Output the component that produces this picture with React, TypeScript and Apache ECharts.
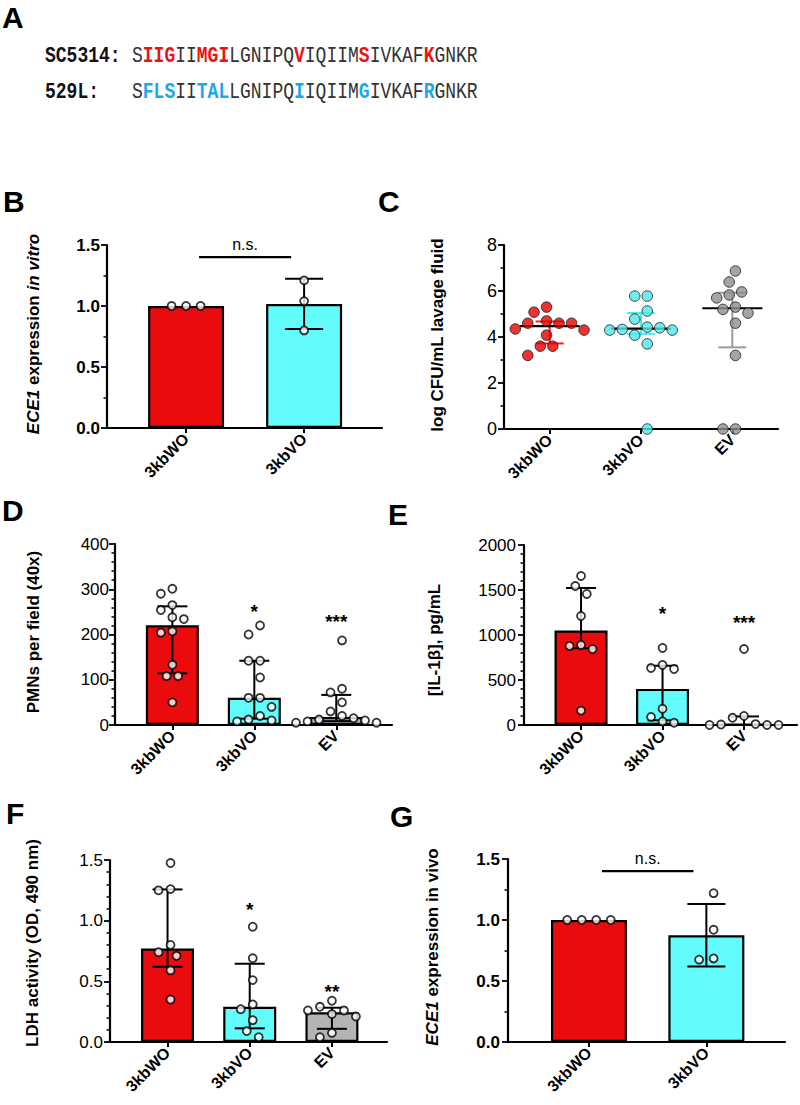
import React, { useEffect, useRef } from 'react';
import * as echarts from 'echarts';

const SANS = '"Liberation Sans", Arial, Helvetica, sans-serif';
const MONO = '"Liberation Mono", "Courier New", monospace';

const RED = '#ea0c0c';
const CYAN = '#62fcfc';
const GRAY = '#b4b4b4';
const DOT_RED = '#e60000';
const DOT_CYAN = '#4ee9ef';
const DOT_GRAY = '#8e8e8e';
const IQR_RED = '#ee2020';
const IQR_CYAN = '#3ef2f2';
const IQR_GRAY = '#9a9a9a';
const SEQ_RED = '#ee1111';
const SEQ_BLUE = '#1aa7ec';

// ---- Panel A: sequences
const strainLabels = ['SC5314:', '529L:'];
const strainSeqs = ['SIIGIIMGILGNIPQVIQIIMSIVKAFKGNKR', 'SFLSIITALLGNIPQIIQIIMGIVKAFRGNKR'];

// ---- categories
const catsTwo = ['3kbWO', '3kbVO'];
const catsThree = ['3kbWO', '3kbVO', 'EV'];

// ---- B: ECE1 expression in vitro
const vitroWO = [1.0, 1.0, 1.0];
const vitroVO = [1.21, 1.04, 0.8];
// ---- C: log CFU/mL lavage fluid
const cfuWO = [5.3, 5.08, 4.7, 4.6, 4.6, 4.6, 4.35, 4.3, 4.08, 3.6, 3.6, 3.2];
const cfuVO = [5.78, 5.78, 5.13, 4.78, 4.43, 4.4, 4.33, 4.3, 4.3, 4.08, 3.7, 0];
const cfuEV = [6.87, 6.39, 5.96, 5.83, 5.7, 5.3, 5.2, 5.04, 4.6, 3.2, 0, 0];
// ---- D: PMNs per field
const pmnWO = [301, 290, 265, 254, 238, 234, 207, 204, 133, 108, 108, 50];
const pmnVO = [220, 200, 142, 142, 105, 60, 60, 40, 20, 12, 10, 8];
const pmnEV = [187, 80, 72, 50, 30, 20, 15, 12, 10, 8, 5, 5];
// ---- E: IL-1b pg/mL
const ilWO = [1656, 1544, 1456, 1211, 889, 878, 844, 160];
const ilVO = [856, 667, 633, 622, 180, 90, 40, 25];
const ilEV = [844, 100, 80, 10, 5, 0, 0, 0];
// ---- F: LDH activity
const ldhWO = [1.475, 1.26, 1.25, 0.8, 0.74, 0.71, 0.59, 0.35];
const ldhVO = [0.95, 0.69, 0.51, 0.31, 0.27, 0.18, 0.09, 0.04];
const ldhEV = [0.34, 0.29, 0.26, 0.26, 0.23, 0.21, 0.075, 0.04];
// ---- G: ECE1 expression in vivo
const vivoWO = [1.0, 1.0, 1.0, 1.0];
const vivoVO = [1.22, 0.92, 0.685, 0.675];

// significance annotations (category index, text, y value)
const starsD = [{ cat: 1, text: '*', value: 261 }, { cat: 2, text: '***', value: 240 }];
const starsE = [{ cat: 1, text: '*', value: 1290 }, { cat: 2, text: '***', value: 1190 }];
const starsF = [{ cat: 1, text: '*', value: 1.13 }, { cat: 2, text: '**', value: 0.46 }];
const nsB = [{ from: 0, to: 1, value: 1.4, text: 'n.s.' }];
const nsG = [{ from: 0, to: 1, value: 1.4, text: 'n.s.' }];

function sorted(a: number[]) { return [...a].sort((x, y) => x - y); }
function quantile(arr: number[], p: number) {
  const s = sorted(arr); const n = s.length;
  const h = (n + 1) * p; const lo = Math.floor(h);
  if (lo < 1) return s[0];
  if (lo >= n) return s[n - 1];
  return s[lo - 1] + (h - lo) * (s[lo] - s[lo - 1]);
}
function mean(a: number[]) { return a.reduce((s, v) => s + v, 0) / a.length; }
function sd(a: number[]) { const m = mean(a); return Math.sqrt(a.reduce((s, v) => s + (v - m) ** 2, 0) / (a.length - 1)); }

// beeswarm offsets in px (circular collision)
function swarm(values: number[], pxPerUnit: number, gap: number) {
  const placed: { x: number; y: number }[] = [];
  const offs: number[] = [];
  const step = gap / 2;
  values.forEach((v) => {
    const y = v * pxPerUnit;
    let chosen = 0;
    for (let k = 0; k < 60; k++) {
      const cand = k === 0 ? 0 : (k % 2 === 1 ? -1 : 1) * Math.ceil(k / 2) * step;
      const ok = placed.every((p) => Math.hypot(p.x - cand, p.y - y) >= gap - 0.01);
      if (ok) { chosen = cand; break; }
    }
    placed.push({ x: chosen, y });
    offs.push(chosen);
  });
  const mn = Math.min(...offs), mx = Math.max(...offs);
  const shift = (mn + mx) / 2;
  return offs.map((o) => o - shift);
}

type Panel = {
  grid: { left: number; top: number; width: number; height: number };
  xMin: number; xMax: number; yMax: number; yInterval: number; minor: number;
  cats: string[]; groups: number[][];
  kind: 'meanSD' | 'medianIQR' | 'scatterIQR';
  barWidth: number; capHalf: number; dot: number; gap: number;
  boldY: boolean; ySize: number; digits: number; yMargin: number;
  barColors: string[]; dotColors?: string[]; iqrColors?: string[];
  stars?: { cat: number; text: string; value: number }[];
  ns?: { from: number; to: number; value: number; text: string }[];
};

const panels: Panel[] = [
  { grid: { left: 107, top: 245, width: 275, height: 183 }, xMin: -0.67, xMax: 1.66, yMax: 1.5, yInterval: 0.5, minor: 2,
    cats: catsTwo, groups: [vitroWO, vitroVO], kind: 'meanSD', barWidth: 76, capHalf: 19, dot: 8, gap: 14.5,
    boldY: true, ySize: 17, digits: 1, yMargin: 7, barColors: [RED, CYAN], ns: nsB },
  { grid: { left: 504, top: 245, width: 274, height: 184 }, xMin: -0.5, xMax: 2.5, yMax: 8, yInterval: 2, minor: 2,
    cats: catsThree, groups: [cfuWO, cfuVO, cfuEV], kind: 'scatterIQR', barWidth: 0, capHalf: 14, dot: 10.5, gap: 12.5,
    boldY: false, ySize: 18, digits: 0, yMargin: 7, barColors: [], dotColors: [DOT_RED, DOT_CYAN, DOT_GRAY], iqrColors: [IQR_RED, IQR_CYAN, IQR_GRAY] },
  { grid: { left: 115, top: 544, width: 277, height: 181 }, xMin: -0.7, xMax: 2.68, yMax: 400, yInterval: 100, minor: 5,
    cats: catsThree, groups: [pmnWO, pmnVO, pmnEV], kind: 'medianIQR', barWidth: 53, capHalf: 15, dot: 8, gap: 11.5,
    boldY: false, ySize: 17, digits: 0, yMargin: 6, barColors: [RED, CYAN, GRAY], stars: starsD },
  { grid: { left: 524, top: 545, width: 273, height: 180 }, xMin: -0.7, xMax: 2.65, yMax: 2000, yInterval: 500, minor: 5,
    cats: catsThree, groups: [ilWO, ilVO, ilEV], kind: 'medianIQR', barWidth: 53, capHalf: 15, dot: 8, gap: 11.5,
    boldY: false, ySize: 17, digits: 0, yMargin: 8, barColors: [RED, CYAN, GRAY], stars: starsE },
  { grid: { left: 110, top: 860, width: 277, height: 182 }, xMin: -0.7, xMax: 2.67, yMax: 1.5, yInterval: 0.5, minor: 5,
    cats: catsThree, groups: [ldhWO, ldhVO, ldhEV], kind: 'medianIQR', barWidth: 53, capHalf: 15, dot: 8, gap: 12,
    boldY: false, ySize: 17, digits: 1, yMargin: 7, barColors: [RED, CYAN, GRAY], stars: starsF },
  { grid: { left: 508, top: 859, width: 277, height: 183 }, xMin: -0.69, xMax: 1.67, yMax: 1.5, yInterval: 0.5, minor: 2,
    cats: catsTwo, groups: [vivoWO, vivoVO], kind: 'meanSD', barWidth: 76, capHalf: 19, dot: 8, gap: 14.5,
    boldY: true, ySize: 17, digits: 1, yMargin: 8, barColors: [RED, CYAN], ns: nsG },
];

const panelLetters = [
  { t: 'A', x: 2, y: 17 }, { t: 'B', x: 3, y: 201 }, { t: 'C', x: 378, y: 201 },
  { t: 'D', x: 2, y: 510 }, { t: 'E', x: 388, y: 514 }, { t: 'F', x: 6, y: 813 }, { t: 'G', x: 390, y: 816 },
];

const yTitles = [
  { text: '{i|ECE1} expression {i|in vitro}', x: 33, y: 334 },
  { text: 'log CFU/mL lavage fluid', x: 437, y: 335 },
  { text: 'PMNs per field (40x)', x: 33, y: 632 },
  { text: '[IL-1\u03b2], pg/mL', x: 434, y: 640 },
  { text: 'LDH activity (OD, 490 nm)', x: 32, y: 943 },
  { text: '{i|ECE1} expression in vivo', x: 432, y: 947 },
];

function buildOption() {
  const option: any = { animation: false, backgroundColor: '#ffffff', grid: [], xAxis: [], yAxis: [], series: [], graphic: [] };

  panels.forEach((p, i) => {
    option.grid.push({ ...p.grid, containLabel: false });
    const idxs = p.cats.map((_, k) => k);
    option.xAxis.push({
      type: 'value', gridIndex: i, min: p.xMin, max: p.xMax,
      axisLine: { show: true, onZero: false, lineStyle: { color: '#000', width: 2.2 } },
      axisTick: { show: true, customValues: idxs, length: 5, lineStyle: { color: '#000', width: 2 } },
      axisLabel: {
        show: true, customValues: idxs, rotate: 45, margin: 8,
        formatter: (v: number) => p.cats[Math.round(v)] ?? '',
        fontSize: 16, fontWeight: 'bold', color: '#000', fontFamily: SANS,
      },
      splitLine: { show: false }, minorTick: { show: false },
    });
    option.yAxis.push({
      type: 'value', gridIndex: i, min: 0, max: p.yMax, interval: p.yInterval,
      axisLine: { show: true, onZero: false, lineStyle: { color: '#000', width: 2.2 } },
      axisTick: { show: true, length: 6, lineStyle: { color: '#000', width: 1.8 } },
      minorTick: { show: true, splitNumber: p.minor, length: 3.5, lineStyle: { color: '#000', width: 1.5 } },
      axisLabel: {
        margin: p.yMargin, fontSize: p.ySize, fontWeight: p.boldY ? 'bold' : 'normal', color: '#000', fontFamily: SANS,
        formatter: (v: number) => v.toFixed(p.digits),
      },
      splitLine: { show: false }, minorSplitLine: { show: false },
    });

    const pxY = p.grid.height / p.yMax;
    const pxCat = p.grid.width / (p.xMax - p.xMin);

    if (p.kind !== 'scatterIQR') {
      const centers = p.groups.map((g) => (p.kind === 'meanSD' ? mean(g) : quantile(g, 0.5)));
      option.series.push({
        type: 'bar', xAxisIndex: i, yAxisIndex: i, barWidth: p.barWidth, z: 2, silent: true,
        data: centers.map((c, gi) => ({ value: [gi, c], itemStyle: { color: p.barColors[gi], borderColor: '#000', borderWidth: 2.2 } })),
      });
      const err = p.groups
        .map((g, gi) => (p.kind === 'meanSD' ? [gi, mean(g) - sd(g), mean(g) + sd(g)] : [gi, quantile(g, 0.25), quantile(g, 0.75)]))
        .filter((d) => d[2] - d[1] > 1e-9);
      option.series.push({
        type: 'custom', xAxisIndex: i, yAxisIndex: i, z: 3, silent: true, data: err, encode: { x: 0, y: [1, 2] },
        renderItem: (params: any, api: any) => {
          const x = api.value(0);
          const a = api.coord([x, api.value(1)]);
          const b = api.coord([x, api.value(2)]);
          const st = { stroke: '#000', lineWidth: 2 };
          const h = p.capHalf;
          return {
            type: 'group', children: [
              { type: 'line', shape: { x1: a[0], y1: a[1], x2: b[0], y2: b[1] }, style: st },
              { type: 'line', shape: { x1: a[0] - h, y1: a[1], x2: a[0] + h, y2: a[1] }, style: st },
              { type: 'line', shape: { x1: b[0] - h, y1: b[1], x2: b[0] + h, y2: b[1] }, style: st },
            ],
          };
        },
      });
    } else {
      const stats = p.groups.map((g, gi) => [gi, quantile(g, 0.25), quantile(g, 0.75), quantile(g, 0.5)]);
      option.series.push({
        type: 'custom', xAxisIndex: i, yAxisIndex: i, z: 3, silent: true, data: stats, encode: { x: 0, y: [1, 2, 3] },
        renderItem: (params: any, api: any) => {
          const x = api.value(0);
          const a = api.coord([x, api.value(1)]);
          const b = api.coord([x, api.value(2)]);
          const m = api.coord([x, api.value(3)]);
          const col = (p.iqrColors as string[])[params.dataIndex];
          const st = { stroke: col, lineWidth: 2 };
          const h = p.capHalf;
          return {
            type: 'group', children: [
              { type: 'line', shape: { x1: a[0], y1: a[1], x2: b[0], y2: b[1] }, style: st },
              { type: 'line', shape: { x1: a[0] - h, y1: a[1], x2: a[0] + h, y2: a[1] }, style: st },
              { type: 'line', shape: { x1: b[0] - h, y1: b[1], x2: b[0] + h, y2: b[1] }, style: st },
              { type: 'line', shape: { x1: m[0] - 30, y1: m[1], x2: m[0] + 30, y2: m[1] }, style: { stroke: '#000', lineWidth: 2.2 } },
            ],
          };
        },
      });
    }

    // individual points
    const dots: any[] = [];
    p.groups.forEach((g, gi) => {
      const offs = swarm(g, pxY, p.gap);
      g.forEach((v, k) => {
        const item: any = { value: [gi + offs[k] / pxCat, v] };
        if (p.kind === 'scatterIQR') {
          item.itemStyle = { color: (p.dotColors as string[])[gi], borderColor: '#1a1a1a', borderWidth: 1 };
        }
        dots.push(item);
      });
    });
    option.series.push({
      type: 'scatter', xAxisIndex: i, yAxisIndex: i, z: 4, silent: true, clip: false,
      symbol: 'circle', symbolSize: p.dot, data: dots,
      itemStyle: { color: '#ffffff', borderColor: '#000', borderWidth: 1.8 },
    });

    if (p.stars) {
      const st = p.stars;
      option.series.push({
        type: 'custom', xAxisIndex: i, yAxisIndex: i, z: 5, silent: true,
        data: st.map((s) => [s.cat, s.value]), encode: { x: 0, y: 1 },
        renderItem: (params: any, api: any) => {
          const c = api.coord([api.value(0), api.value(1)]);
          return {
            type: 'text', x: c[0], y: c[1] + 5,
            style: { text: st[params.dataIndex].text, align: 'center', verticalAlign: 'middle', fontSize: 19, fontWeight: 'bold', fontFamily: SANS, fill: '#000' },
          };
        },
      });
    }
    if (p.ns) {
      const ns = p.ns;
      option.series.push({
        type: 'custom', xAxisIndex: i, yAxisIndex: i, z: 5, silent: true,
        data: ns.map((s) => [s.from, s.to, s.value]), encode: { x: [0, 1], y: 2 },
        renderItem: (params: any, api: any) => {
          const a = api.coord([api.value(0) + 0.11, api.value(2)]);
          const b = api.coord([api.value(1) - 0.11, api.value(2)]);
          return {
            type: 'group', children: [
              { type: 'line', shape: { x1: a[0], y1: a[1], x2: b[0], y2: b[1] }, style: { stroke: '#000', lineWidth: 2.2 } },
              { type: 'text', x: (a[0] + b[0]) / 2, y: a[1] - 5,
                style: { text: ns[params.dataIndex].text, align: 'center', verticalAlign: 'bottom', fontSize: 16, fontFamily: SANS, fill: '#000' } },
            ],
          };
        },
      });
    }
  });

  // panel letters
  panelLetters.forEach((l) => {
    option.graphic.push({
      type: 'text', x: l.x, y: l.y,
      style: { text: l.t, fontSize: 30, fontWeight: 'bold', fontFamily: SANS, fill: '#000', align: 'left', verticalAlign: 'middle' },
    });
  });

  // panel A sequences
  const lineY = [56.5, 92.5];
  strainSeqs.forEach((seq, si) => {
    const other = strainSeqs[1 - si];
    const hl = si === 0 ? 'r' : 'b';
    let txt = '';
    let cur = '';
    let curKey = '';
    for (let k = 0; k < seq.length; k++) {
      const key = seq[k] !== other[k] ? hl : 'n';
      if (key !== curKey && cur) { txt += `{${curKey}|${cur}}`; cur = ''; }
      curKey = key; cur += seq[k];
    }
    if (cur) txt += `{${curKey}|${cur}}`;
    option.graphic.push({
      type: 'text', x: 45, y: lineY[si], scaleY: 1.2,
      style: { text: strainLabels[si], fontSize: 18, fontWeight: 'bold', fontFamily: MONO, fill: '#111', align: 'left', verticalAlign: 'middle' },
    });
    option.graphic.push({
      type: 'text', x: 132, y: lineY[si], scaleY: 1.2,
      style: {
        text: txt, align: 'left', verticalAlign: 'middle', fontSize: 18, fontFamily: MONO, fill: '#333',
        rich: {
          n: { fontSize: 18, fontFamily: MONO, fill: '#333' },
          r: { fontSize: 18, fontFamily: MONO, fontWeight: 'bold', fill: SEQ_RED },
          b: { fontSize: 18, fontFamily: MONO, fontWeight: 'bold', fill: SEQ_BLUE },
        },
      },
    });
  });

  // y axis titles
  yTitles.forEach((t) => {
    option.graphic.push({
      type: 'text', x: t.x, y: t.y, rotation: Math.PI / 2,
      style: {
        text: t.text, align: 'center', verticalAlign: 'middle', fontSize: 17, fontWeight: 'bold', fontFamily: SANS, fill: '#000',
        rich: { i: { fontSize: 17, fontWeight: 'bold', fontStyle: 'italic', fontFamily: SANS, fill: '#000' } },
      },
    });
  });

  return option;
}

export default function App() {
  const ref = useRef<HTMLDivElement>(null);
  useEffect(() => {
    if (!ref.current) return;
    const chart = echarts.init(ref.current, null, { renderer: 'svg' });
    chart.setOption(buildOption());
    return () => chart.dispose();
  }, []);
  return (
    <div
      ref={ref}
      style={{ position: 'absolute', left: 0, top: 0, width: 800, height: 1105, background: '#fff' }}
    />
  );
}
